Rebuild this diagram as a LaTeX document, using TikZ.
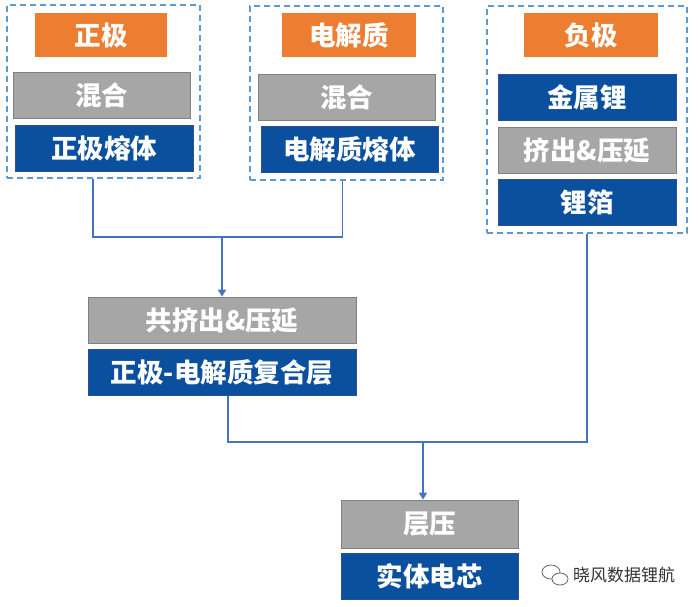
\documentclass[tikz,border=0pt]{standalone}
\usepackage{fontspec}
\setmainfont{Noto Sans CJK SC}
\usetikzlibrary{arrows.meta}
\definecolor{orangeC}{HTML}{ED7D31}
\definecolor{blueC}{HTML}{0B509E}
\definecolor{blueB}{HTML}{2F4F8F}
\definecolor{grayC}{HTML}{A6A6A6}
\definecolor{grayB}{HTML}{808080}
\definecolor{dashC}{HTML}{5B9BD5}
\definecolor{lineC}{HTML}{4472C4}
\tikzset{
  box/.style={minimum width=#1, inner sep=0pt, text=white, font=\fontsize{26.5}{26.5}\selectfont\bfseries},
  obox/.style={box=#1, fill=orangeC, minimum height=44pt},
  gbox/.style={box=#1, fill=grayC, draw=grayB, line width=0.8pt, minimum height=46pt},
  bbox/.style={box=#1, fill=blueC, draw=blueB, line width=0.8pt, minimum height=46pt},
  group/.style={draw=dashC, line width=1.5pt, dash pattern=on 6pt off 4pt, inner sep=0pt},
  conn/.style={draw=lineC, line width=1.5pt},
  arr/.style={conn, -{Triangle[length=7pt,width=8pt]}},
}
\begin{document}
\begin{tikzpicture}[x=1pt,y=-1pt]
\useasboundingbox (0,0) rectangle (698,606);
\fill[white] (0,0) rectangle (698,606);
% groups
\node[group, minimum width=193pt, minimum height=173pt] (lgrp) at (103.5,91.5) {};
\node[group, minimum width=193pt, minimum height=174pt] (mgrp) at (346.5,93) {};
\node[group, minimum width=200pt, minimum height=227pt] (rgrp) at (587,119.5) {};
% left column
\node[obox=132pt] (pos) at (101,35) {正极};
\node[gbox=177pt] (mixl) at (101.5,95.5) {混合};
\node[bbox=178pt] (posmelt) at (104,148.5) {正极熔体};
% middle column
\node[obox=134pt] (ele) at (349,35) {电解质};
\node[gbox=177pt] (mixm) at (346.5,97) {混合};
\node[bbox=177pt] (elemelt) at (349.5,149.5) {电解质熔体};
% right column
\node[obox=134pt] (neg) at (591,35) {负极};
\node[bbox=178pt] (li) at (587,97.5) {金属锂};
\node[gbox=178pt] (extr) at (587,150) {挤出\&压延};
\node[bbox=178pt] (foil) at (587,202.5) {锂箔};
% middle stage
\node[gbox=268pt] (coex) at (222,320) {共挤出\&压延};
\node[bbox=268pt] (comp) at (222,372.5) {正极-电解质复合层};
% final stage
\node[gbox=177pt, minimum height=48pt] (lam) at (429.5,524) {层压};
\node[bbox=177pt] (cell) at (429.5,576.5) {实体电芯};
% connectors
\coordinate (j1) at (222,237);
\coordinate (j2) at (423,442);
\draw[conn] ([xshift=-10.5pt]lgrp.south) |- (j1) -| ([xshift=-4pt]mgrp.south);
\draw[arr] (j1) -- (coex.north);
\draw[conn] ([xshift=6pt]comp.south) |- (j2) -| (rgrp.south);
\draw[arr] (j2) -- (j2 |- lam.north);
% signature
\node[text=black!80, font=\fontsize{17}{17}\selectfont, anchor=west, inner sep=0pt] (sig) at (573,575) {晓风数据锂航};
\draw[black!60, line width=0.8pt] (551,572) ellipse [x radius=9pt, y radius=7pt];
\draw[black!60, line width=0.8pt, fill=white] (560,579) ellipse [x radius=8pt, y radius=6pt];
\end{tikzpicture}
\end{document}
